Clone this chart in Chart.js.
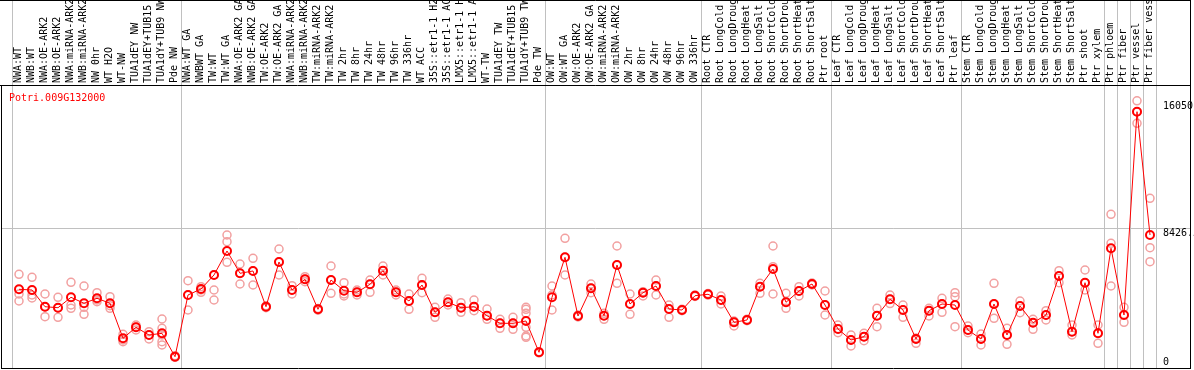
<!DOCTYPE html>
<html lang="en">
<head>
<meta charset="UTF-8">
<title>Potri.009G132000</title>
<script src="https://cdn.jsdelivr.net/npm/chart.js"></script>
<style>
  html, body { margin: 0; padding: 0; background: #fff; }
  canvas { display: block; }
</style>
</head>
<body>
<canvas id="efp" width="1194" height="370"></canvas>
<script>
// gene shown in the chart
const geneName = 'Potri.009G132000';

// sample names (one column each)
const samples = [
  'NWA:WT', 'NWB:WT', 'NWA:OE-ARK2', 'NWB:OE-ARK2', 'NWA:miRNA-ARK2', 'NWB:miRNA-ARK2', 'NW 0hr', 'WT H2O', 'WT-NW',
  'TUA1dEY NW', 'TUA1dEY+TUB15 NW', 'TUA1dY+TUB9 NW', 'Pde NW',
  'NWA:WT GA', 'NWBWT GA', 'TW:WT', 'TW:WT GA', 'NWA:OE-ARK2 GA', 'NWB:OE-ARK2 GA', 'TW:OE-ARK2', 'TW:OE-ARK2 GA',
  'NWA:miRNA-ARK2', 'NWB:miRNA-ARK2', 'TW:miRNA-ARK2', 'TW:miRNA-ARK2', 'TW 2hr', 'TW 8hr', 'TW 24hr', 'TW 48hr',
  'TW 96hr', 'TW 336hr', 'WT ACC', '35S::etr1-1 H2O', '35S::etr1-1 ACC', 'LMX5::etr1-1 H2O', 'LMX5::etr1-1 ACC',
  'WT-TW', 'TUA1dEY TW', 'TUA1dEY+TUB15 TW', 'TUA1dY+TUB9 TW', 'Pde TW',
  'OW:WT', 'OW:WT GA', 'OW:OE-ARK2', 'OW:OE-ARK2 GA', 'OW:miRNA-ARK2', 'OW:miRNA-ARK2', 'OW 2hr', 'OW 8hr',
  'OW 24hr', 'OW 48hr', 'OW 96hr', 'OW 336hr',
  'Root CTR', 'Root LongCold', 'Root LongDrought', 'Root LongHeat', 'Root LongSalt', 'Root ShortCold',
  'Root ShortDrought', 'Root ShortHeat', 'Root ShortSalt', 'Ptr root',
  'Leaf CTR', 'Leaf LongCold', 'Leaf LongDrought', 'Leaf LongHeat', 'Leaf LongSalt', 'Leaf ShortCold',
  'Leaf ShortDrought', 'Leaf ShortHeat', 'Leaf ShortSalt', 'Ptr leaf',
  'Stem CTR', 'Stem LongCold', 'Stem LongDrought', 'Stem LongHeat', 'Stem LongSalt', 'Stem ShortCold',
  'Stem ShortDrought', 'Stem ShortHeat', 'Stem ShortSalt', 'Ptr shoot', 'Ptr xylem',
  'Ptr phloem', 'Ptr fiber', 'Ptr vessel', 'Ptr fiber vessel'
];

// column index where each group of samples begins (88 = closing line)
const groupStarts = [0, 13, 41, 53, 63, 73, 84, 85, 86, 87, 88];

// mean expression per sample
const meanValues = [
  4728, 4685, 3682, 3622, 4247, 3887, 4187, 3887, 1784, 2445, 1982, 2084, 679,
  4385, 4746, 5587, 7028, 5689, 5827, 3682, 6367, 4685, 5328, 3526, 5286, 4643, 4547, 5028,
  5845, 4547, 4025, 4986, 3346, 3947, 3622, 3682, 3142, 2685, 2685, 2823, 943,
  4247, 6650, 3124, 4788, 3142, 6187, 3844, 4523, 4926, 3544, 3484, 4343,
  4427, 4085, 2745, 2883, 4884, 5947, 3947, 4625, 5046, 3784,
  2343, 1682, 1880, 3142, 4127, 3484, 1742, 3442, 3844, 3784,
  2283, 1742, 3844, 1982, 3724, 2721, 3184, 5526, 2181, 5124, 2084,
  7190, 3184, 15396, 7989
];

// individual replicates per sample
const replicateValues = [
  [5629, 4445, 4025], [5448, 4385, 4205], [4445, 3664, 3082], [4247, 3604, 3046], [5148, 3784, 3586],
  [4926, 3646, 3226], [4523, 4085, 3983], [4283, 3742, 3586], [2024, 1682, 1580], [2583, 2463, 2283],
  [2181, 1982, 1742], [2943, 2385, 1982, 1580, 1382], [740, 660, 640],
  [5244, 4385, 3484], [4884, 4685, 4547], [5587, 4685, 4085], [7989, 7587, 6349], [6247, 5689, 5046],
  [6590, 5827, 4986], [3740, 3682, 3620], [7148, 6367, 5587], [4944, 4685, 4445], [5484, 5328, 5184],
  [3580, 3526, 3470], [6127, 5286, 4487], [5124, 4445, 4325], [4685, 4547, 4385], [5286, 5028, 4547],
  [6127, 5845, 5587], [4685, 4547, 4385], [4445, 4025, 3526], [5388, 4986, 4523], [3646, 3346, 3046],
  [4145, 3947, 3784], [3923, 3622, 3346], [4085, 3682, 3442], [3544, 3142, 2925], [2925, 2685, 2385],
  [3046, 2685, 2325], [3646, 3526, 3286, 2445, 1922, 1844], [980, 943, 910],
  [4926, 4385, 3484], [7791, 6650, 5587], [3180, 3124, 3070], [5046, 4788, 4523], [3286, 3142, 2925],
  [7329, 6187, 5088], [4445, 3844, 3226], [4583, 4523, 4325], [5286, 4926, 4385], [3784, 3544, 3046],
  [3530, 3484, 3440], [4390, 4343, 4300],
  [4470, 4427, 4380], [4325, 4085, 3844], [2823, 2745, 2523], [2930, 2883, 2840], [5088, 4884, 4487],
  [7329, 6085, 4445], [4487, 3947, 3586], [4884, 4625, 4325], [5100, 5046, 4990], [4625, 3784, 3184],
  [2583, 2343, 2120], [1982, 1682, 1322], [2084, 1880, 1640], [3586, 3142, 2481], [4385, 4127, 3870],
  [3784, 3484, 3046], [1800, 1742, 1484], [3586, 3442, 3124], [4187, 3844, 3346], [4523, 4283, 2481],
  [2523, 2283, 2120], [2042, 1742, 1382], [5088, 3844, 2985], [2385, 1982, 1424], [4025, 3724, 3322],
  [2925, 2721, 2325], [3442, 3184, 2883], [5845, 5526, 5124], [2583, 2181, 1982], [5887, 5124, 4685],
  [2583, 2084, 1484],
  [9233, 7491, 4926], [3646, 3184, 2745], [16050, 15396, 14699], [10194, 7226, 6385]
];

// right-hand axis marks
const yTicks = [0, 8426.5, 16050];
const yTickLabels = ['0', '8426.5', '16050'];

const monoFont = '"DejaVu Sans Mono", "Liberation Mono", monospace';

// one dataset per replicate slot, empty where a sample has fewer replicates
const maxReps = Math.max(...replicateValues.map(r => r.length));
const replicateSets = [];
for (let k = 0; k < maxReps; k++) {
  replicateSets.push({
    data: replicateValues.map(r => (r[k] !== undefined ? r[k] : null)),
    showLine: false,
    pointRadius: 4,
    pointBorderWidth: 1.5,
    pointBorderColor: '#f2a0a0',
    pointBackgroundColor: 'rgba(0,0,0,0)'
  });
}

// frame, middle grid line, axis numbers and gene name
const framePlugin = {
  id: 'frame',
  beforeDatasetsDraw(chart) {
    const { ctx, chartArea } = chart;
    const py = Math.round(chart.scales.y.getPixelForValue(yTicks[1])) + 0.5;
    ctx.save();
    ctx.strokeStyle = '#c0c0c0';
    ctx.lineWidth = 1;
    ctx.beginPath();
    ctx.moveTo(1, py);
    ctx.lineTo(chartArea.right + 34, py);
    ctx.stroke();
    ctx.restore();
  },
  afterDraw(chart) {
    const { ctx, chartArea } = chart;
    const y = chart.scales.y;
    const right = chartArea.right + 34;
    ctx.save();
    ctx.strokeStyle = '#000';
    ctx.lineWidth = 1;
    ctx.beginPath();
    ctx.moveTo(0, 0.5); ctx.lineTo(right, 0.5);
    ctx.moveTo(0, chartArea.top + 0.5); ctx.lineTo(right, chartArea.top + 0.5);
    ctx.moveTo(1.5, chartArea.top); ctx.lineTo(1.5, chartArea.bottom + 1);
    ctx.moveTo(right, 0); ctx.lineTo(right, chartArea.bottom + 1);
    ctx.moveTo(1, chartArea.bottom + 0.5); ctx.lineTo(right + 0.5, chartArea.bottom + 0.5);
    ctx.stroke();

    ctx.font = '10px ' + monoFont;
    ctx.fillStyle = '#000';
    yTicks.forEach((v, i) => {
      const py = y.getPixelForValue(v);
      if (i === 0) {
        ctx.textBaseline = 'bottom';
        ctx.fillText(yTickLabels[i], chartArea.right + 6.5, py - 1);
      } else {
        ctx.textBaseline = 'top';
        ctx.fillText(yTickLabels[i], chartArea.right + 6.5, py + 1);
      }
    });

    ctx.fillStyle = '#ff0000';
    ctx.textBaseline = 'alphabetic';
    ctx.fillText(geneName, 9, chartArea.top + 16);
    ctx.restore();
  }
};

new Chart(document.getElementById('efp'), {
  type: 'line',
  data: {
    labels: samples,
    datasets: [{
      data: meanValues,
      borderColor: '#ff0000',
      borderWidth: 1,
      tension: 0,
      pointRadius: 4,
      pointBorderWidth: 2,
      pointBorderColor: '#ff0000',
      pointBackgroundColor: 'rgba(0,0,0,0)'
    }, ...replicateSets]
  },
  options: {
    responsive: false,
    animation: false,
    layout: { autoPadding: false, padding: { left: 12.5, right: 4, top: 0, bottom: 2 } },
    plugins: { legend: { display: false }, tooltip: { enabled: false } },
    scales: {
      x: {
        type: 'category',
        position: 'top',
        offset: true,
        grid: {
          offset: true,
          color: ctx => (ctx.index === undefined || groupStarts.includes(ctx.index)) ? '#c0c0c0' : 'rgba(0,0,0,0)',
          lineWidth: 1,
          drawTicks: true,
          tickLength: 85
        },
        border: { display: false },
        ticks: {
          autoSkip: false,
          minRotation: 90,
          maxRotation: 90,
          padding: -83,
          labelOffset: 11,
          color: '#000',
          font: { family: monoFont, size: 10 }
        },
        afterFit: s => { s.height = 85; }
      },
      y: {
        type: 'linear',
        position: 'right',
        min: 0,
        max: 17000,
        afterBuildTicks: s => { s.ticks = yTicks.map(v => ({ value: v })); },
        grid: { display: false },
        border: { display: false },
        ticks: { display: false },
        afterFit: s => { s.width = 33.5; }
      }
    }
  },
  plugins: [framePlugin]
});
</script>
</body>
</html>
